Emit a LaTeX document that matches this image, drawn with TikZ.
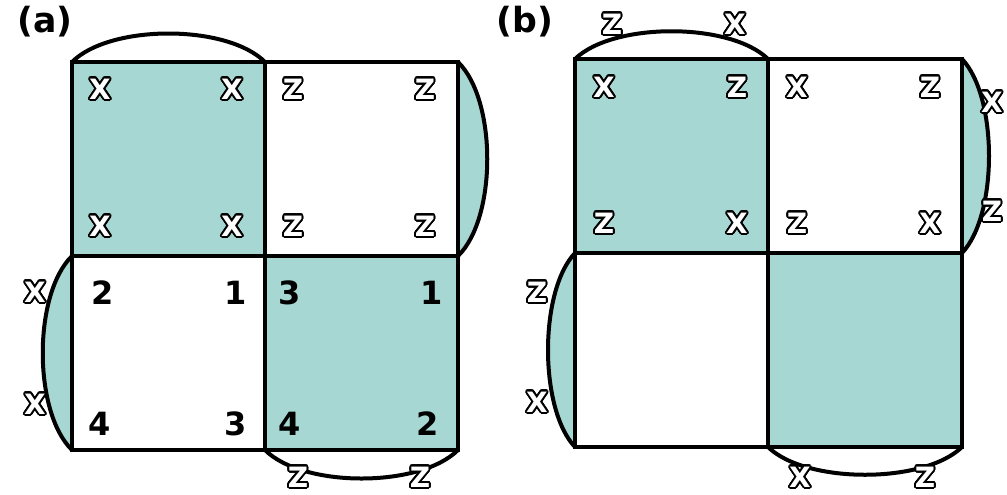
\documentclass[tikz,border=0pt]{standalone}
\usepackage{fontspec}
\setmainfont{DejaVu Sans}
\usepackage[copies]{contour}
\contournumber{32}
\contourlength{1.3pt}
\definecolor{teal}{RGB}{166,215,210}
\tikzset{
 cell/.style={draw=black,line width=3pt},
 arc/.style={draw=black,line width=3pt},
 ol/.style={font=\fontsize{21}{21}\selectfont\bfseries},
 num/.style={font=\fontsize{24}{24}\selectfont\bfseries},
 lab/.style={font=\fontsize{26}{26}\selectfont\bfseries},
}
\newcommand{\olt}[1]{\contour{black}{\textcolor{white}{#1}}}
\begin{document}
\begin{tikzpicture}[x=0.75pt,y=-0.75pt]
\useasboundingbox (0,0) rectangle (1007,494);
% panel a
\fill[teal] (72,62) rectangle (265,256);
\fill[teal] (265,256) rectangle (458,450);
\filldraw[arc,fill=teal] (458,62) .. controls (497,100) and (497,218) .. (458,256);
\filldraw[arc,fill=teal] (72,256) .. controls (33,294) and (33,412) .. (72,450);
\draw[arc] (72,62) .. controls (110,24) and (227,24) .. (265,62);
\draw[arc] (265,450) .. controls (303,488) and (420,488) .. (458,450);
\draw[cell] (72,62) rectangle (458,450);
\draw[cell] (265,62) -- (265,450);
\draw[cell] (72,256) -- (458,256);
% panel b
\fill[teal] (575,59) rectangle (768,253);
\fill[teal] (768,253) rectangle (962,447);
\filldraw[arc,fill=teal] (962,59) .. controls (998,97) and (998,215) .. (962,253);
\filldraw[arc,fill=teal] (575,253) .. controls (539,291) and (539,409) .. (575,447);
\draw[arc] (575,59) .. controls (613,22) and (730,22) .. (768,59);
\draw[arc] (768,447) .. controls (806,484) and (924,484) .. (962,447);
\draw[cell] (575,59) rectangle (962,447);
\draw[cell] (768,59) -- (768,447);
\draw[cell] (575,253) -- (962,253);
% labels
\node[lab] (la) at (45,22) {(a)};
\node[lab] (lb) at (525,22) {(b)};
% letters
\foreach \n/\x/\y/\t in {a1/100/90/X,a2/232/90/X,a3/100/227/X,a4/232/227/X,a5/293/90/Z,a6/425/90/Z,a7/293/227/Z,a8/425/227/Z,a9/35/293/X,a10/35/405/X,a11/298/478/Z,a12/420/478/Z,
 b1/612/25/Z,b2/735/25/X,b3/604/88/X,b4/737/88/Z,b5/604/224/Z,b6/737/224/X,b7/797/88/X,b8/930/88/Z,b9/797/224/Z,b10/930/224/X,b11/992/103/X,b12/992/212/Z,b13/537/293/Z,b14/537/403/X,b15/800/478/X,b16/925/478/Z}
 \node[ol] (\n) at (\x,\y) {\olt{\t}};
\foreach \n/\x/\y/\t in {n1/103/293/2,n2/236/293/1,n3/100/424/4,n4/236/424/3,n5/290/293/3,n6/432/293/1,n7/290/424/4,n8/428/424/2}
 \node[num] (\n) at (\x,\y) {\t};
\end{tikzpicture}
\end{document}
